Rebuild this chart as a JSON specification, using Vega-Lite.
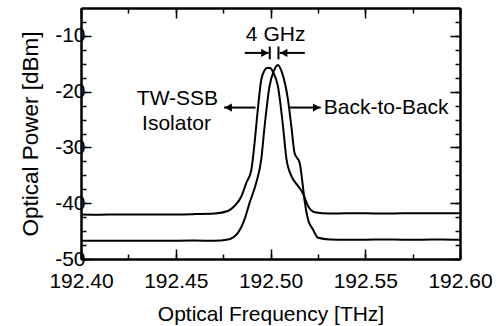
{
  "$schema": "https://vega.github.io/schema/vega-lite/v6.json",
  "width": 379,
  "height": 251,
  "autosize": {"type": "none"},
  "padding": {"left": 81, "top": 8, "right": 40, "bottom": 67},
  "config": {
    "view": {"stroke": null},
    "font": "Liberation Sans",
    "axis": {
      "domainColor": "black", "domainWidth": 2, "tickColor": "black", "tickWidth": 1.5,
      "labelFont": "Liberation Sans", "labelFontSize": 21, "labelColor": "black", "labelOverlap": false, "labelFlush": false,
      "titleFont": "Liberation Sans", "titleFontSize": 21, "titleFontWeight": "normal", "titleColor": "black",
      "grid": false
    }
  },
  "datasets": {
    "curves": [
      {"f": 192.400, "p": -42.0, "s": "TW"},
      {"f": 192.410, "p": -42.05, "s": "TW"},
      {"f": 192.420, "p": -42.0, "s": "TW"},
      {"f": 192.430, "p": -42.0, "s": "TW"},
      {"f": 192.440, "p": -42.0, "s": "TW"},
      {"f": 192.450, "p": -42.0, "s": "TW"},
      {"f": 192.460, "p": -41.95, "s": "TW"},
      {"f": 192.4705, "p": -41.85, "s": "TW"},
      {"f": 192.4775, "p": -41.4, "s": "TW"},
      {"f": 192.4810, "p": -40.5, "s": "TW"},
      {"f": 192.4846, "p": -38.8, "s": "TW"},
      {"f": 192.4872, "p": -36.4, "s": "TW"},
      {"f": 192.4899, "p": -34.0, "s": "TW"},
      {"f": 192.4916, "p": -29.2, "s": "TW"},
      {"f": 192.4933, "p": -23.2, "s": "TW"},
      {"f": 192.4951, "p": -17.9, "s": "TW"},
      {"f": 192.4968, "p": -16.2, "s": "TW"},
      {"f": 192.4985, "p": -15.7, "s": "TW"},
      {"f": 192.5000, "p": -15.8, "s": "TW"},
      {"f": 192.5015, "p": -16.6, "s": "TW"},
      {"f": 192.5039, "p": -19.0, "s": "TW"},
      {"f": 192.5066, "p": -26.2, "s": "TW"},
      {"f": 192.5084, "p": -32.0, "s": "TW"},
      {"f": 192.5110, "p": -35.1, "s": "TW"},
      {"f": 192.5145, "p": -36.9, "s": "TW"},
      {"f": 192.5171, "p": -38.2, "s": "TW"},
      {"f": 192.5198, "p": -40.5, "s": "TW"},
      {"f": 192.5233, "p": -41.6, "s": "TW"},
      {"f": 192.5312, "p": -41.85, "s": "TW"},
      {"f": 192.540, "p": -41.8, "s": "TW"},
      {"f": 192.550, "p": -41.8, "s": "TW"},
      {"f": 192.560, "p": -41.85, "s": "TW"},
      {"f": 192.570, "p": -41.8, "s": "TW"},
      {"f": 192.580, "p": -41.8, "s": "TW"},
      {"f": 192.590, "p": -41.8, "s": "TW"},
      {"f": 192.600, "p": -41.8, "s": "TW"},
      {"f": 192.400, "p": -46.75, "s": "B2B"},
      {"f": 192.420, "p": -46.75, "s": "B2B"},
      {"f": 192.440, "p": -46.75, "s": "B2B"},
      {"f": 192.460, "p": -46.7, "s": "B2B"},
      {"f": 192.4705, "p": -46.75, "s": "B2B"},
      {"f": 192.4775, "p": -46.5, "s": "B2B"},
      {"f": 192.4828, "p": -45.3, "s": "B2B"},
      {"f": 192.4863, "p": -42.9, "s": "B2B"},
      {"f": 192.4890, "p": -39.9, "s": "B2B"},
      {"f": 192.4925, "p": -36.3, "s": "B2B"},
      {"f": 192.4951, "p": -32.2, "s": "B2B"},
      {"f": 192.4969, "p": -26.2, "s": "B2B"},
      {"f": 192.4995, "p": -19.0, "s": "B2B"},
      {"f": 192.5016, "p": -16.4, "s": "B2B"},
      {"f": 192.5039, "p": -15.2, "s": "B2B"},
      {"f": 192.5060, "p": -16.5, "s": "B2B"},
      {"f": 192.5092, "p": -21.4, "s": "B2B"},
      {"f": 192.5110, "p": -26.2, "s": "B2B"},
      {"f": 192.5127, "p": -31.0, "s": "B2B"},
      {"f": 192.5154, "p": -32.8, "s": "B2B"},
      {"f": 192.5171, "p": -37.0, "s": "B2B"},
      {"f": 192.5180, "p": -39.6, "s": "B2B"},
      {"f": 192.5198, "p": -42.9, "s": "B2B"},
      {"f": 192.5224, "p": -44.7, "s": "B2B"},
      {"f": 192.5251, "p": -46.2, "s": "B2B"},
      {"f": 192.5312, "p": -46.5, "s": "B2B"},
      {"f": 192.540, "p": -46.55, "s": "B2B"},
      {"f": 192.550, "p": -46.55, "s": "B2B"},
      {"f": 192.560, "p": -46.5, "s": "B2B"},
      {"f": 192.570, "p": -46.55, "s": "B2B"},
      {"f": 192.580, "p": -46.55, "s": "B2B"},
      {"f": 192.590, "p": -46.5, "s": "B2B"},
      {"f": 192.600, "p": -46.55, "s": "B2B"}
    ],
    "rules": [
      {"f": 192.4864, "f2": 192.4990, "p": -13.05, "p2": -13.05},
      {"f": 192.4996, "f2": 192.4996, "p": -11.9, "p2": -14.2},
      {"f": 192.5042, "f2": 192.5042, "p": -11.9, "p2": -14.2},
      {"f": 192.5048, "f2": 192.5181, "p": -13.05, "p2": -13.05},
      {"f": 192.4755, "f2": 192.4921, "p": -22.85, "p2": -22.85},
      {"f": 192.5101, "f2": 192.5265, "p": -22.85, "p2": -22.85}
    ],
    "heads": [
      {"f": 192.4970, "p": -13.05, "shape": "triangle-right"},
      {"f": 192.5070, "p": -13.05, "shape": "triangle-left"},
      {"f": 192.4777, "p": -22.85, "shape": "triangle-left"},
      {"f": 192.5243, "p": -22.85, "shape": "triangle-right"}
    ],
    "textsC": [
      {"f": 192.5027, "p": -9.9, "label": "4 GHz"},
      {"f": 192.4509, "p": -21.4, "label": "TW-SSB"},
      {"f": 192.4504, "p": -25.8, "label": "Isolator"}
    ],
    "textsL": [
      {"f": 192.5281, "p": -22.9, "label": "Back-to-Back"}
    ]
  },
  "resolve": {"axis": {"x": "independent", "y": "independent"}},
  "layer": [
    {
      "data": {"name": "curves"},
      "mark": {"type": "line", "color": "black", "strokeWidth": 2, "interpolate": "monotone"},
      "encoding": {
        "x": {"field": "f", "type": "quantitative", "scale": {"domain": [192.4, 192.6], "nice": false, "zero": false},
          "axis": {"orient": "bottom", "values": [192.4, 192.45, 192.5, 192.55, 192.6], "tickSize": -10, "labelPadding": 21,
            "labelExpr": "format(datum.value, '.2f')", "title": "Optical Frequency [THz]", "titlePadding": 12}},
        "y": {"field": "p", "type": "quantitative", "scale": {"domain": [-50, -5], "nice": false, "zero": false},
          "axis": {"orient": "left", "values": [-50, -40, -30, -20, -10], "tickSize": -10, "labelPadding": 6,
            "labelExpr": "'' + datum.value", "title": "Optical Power [dBm]", "titleFontSize": 22.5, "titlePadding": 12}},
        "detail": {"field": "s"}
      }
    },
    {
      "data": {"name": "rules"},
      "mark": {"type": "rule", "color": "black", "strokeWidth": 2},
      "encoding": {
        "x": {"field": "f", "type": "quantitative",
          "axis": {"orient": "top", "values": [192.4, 192.45, 192.5, 192.55, 192.6], "tickSize": -10, "labels": false, "title": null}},
        "x2": {"field": "f2"},
        "y": {"field": "p", "type": "quantitative",
          "axis": {"orient": "right", "values": [-50, -40, -30, -20, -10], "tickSize": -10, "labels": false, "title": null}},
        "y2": {"field": "p2"}
      }
    },
    {
      "data": {"name": "heads"},
      "mark": {"type": "point", "filled": true, "color": "black", "size": 70, "opacity": 1},
      "encoding": {
        "x": {"field": "f", "type": "quantitative",
          "axis": {"orient": "bottom", "values": [192.4, 192.425, 192.45, 192.475, 192.5, 192.525, 192.55, 192.575, 192.6], "tickSize": -5, "labels": false, "title": null}},
        "y": {"field": "p", "type": "quantitative",
          "axis": {"orient": "left", "values": [-50, -47.5, -45, -42.5, -40, -37.5, -35, -32.5, -30, -27.5, -25, -22.5, -20, -17.5, -15, -12.5, -10, -7.5], "tickSize": -5, "labels": false, "title": null}},
        "shape": {"field": "shape", "type": "nominal", "scale": null}
      }
    },
    {
      "data": {"name": "textsC"},
      "mark": {"type": "text", "font": "Liberation Sans", "fontSize": 21, "align": "center", "baseline": "middle", "color": "black"},
      "encoding": {
        "x": {"field": "f", "type": "quantitative",
          "axis": {"orient": "top", "values": [192.4, 192.425, 192.45, 192.475, 192.5, 192.525, 192.55, 192.575, 192.6], "tickSize": -5, "labels": false, "title": null}},
        "y": {"field": "p", "type": "quantitative",
          "axis": {"orient": "right", "values": [-50, -47.5, -45, -42.5, -40, -37.5, -35, -32.5, -30, -27.5, -25, -22.5, -20, -17.5, -15, -12.5, -10, -7.5], "tickSize": -5, "labels": false, "title": null}},
        "text": {"field": "label"}
      }
    },
    {
      "data": {"name": "textsL"},
      "mark": {"type": "text", "font": "Liberation Sans", "fontSize": 21, "align": "left", "baseline": "middle", "color": "black"},
      "encoding": {
        "x": {"field": "f", "type": "quantitative", "axis": null},
        "y": {"field": "p", "type": "quantitative", "axis": null},
        "text": {"field": "label"}
      }
    }
  ]
}
